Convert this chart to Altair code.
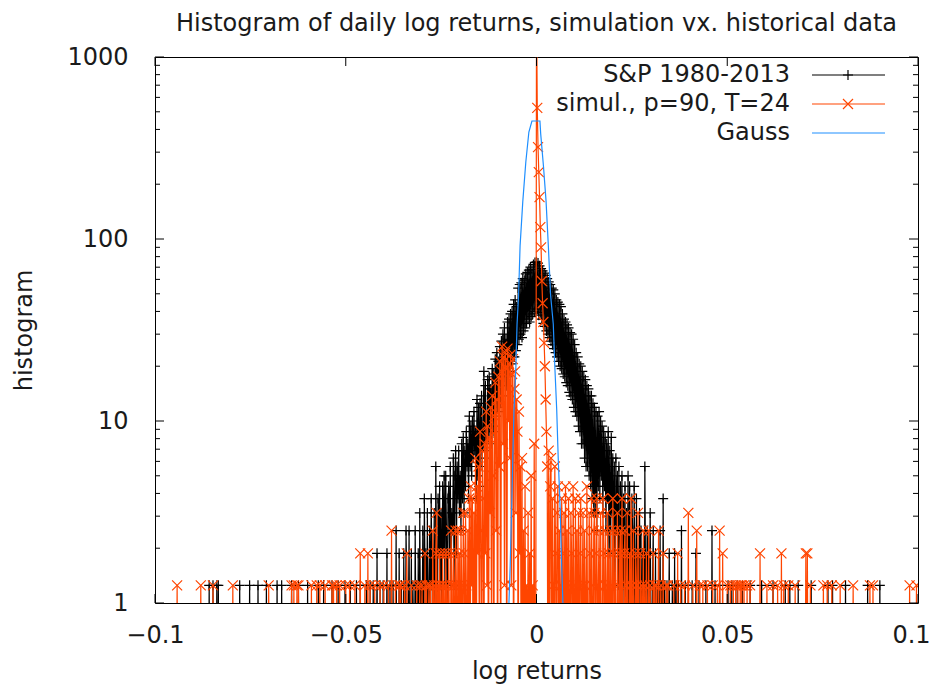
import altair as alt
import pandas as pd

# ---------------- data ----------------
BIN_WIDTH = 0.0002          # histogram bin width in log-return units
COUNT_TO_DENSITY = 0.625    # histogram value of one count
EMPTY_BIN_VALUE = 0.2       # empty bins lie below the log axis (line drops out of view)

X_TICKS = [-0.1, -0.05, 0, 0.05, 0.1]
Y_MAJOR = [1, 10, 100, 1000]
Y_MINOR = [2, 3, 4, 5, 6, 7, 8, 9, 20, 30, 40, 50, 60, 70, 80, 90,
           200, 300, 400, 500, 600, 700, 800, 900]

LABELS = ["S&P 1980-2013", "simul., p=90, T=24", "Gauss"]
TITLE = "Histogram of daily log returns, simulation vx. historical data"

# S&P 1980-2013: counts per bin, bins -175 .. 175
SP_FIRST_BIN = -175
SP_CORE = [
    0, 3, 1, 0, 4, 2, 0, 1, 4, 0, 1, 3, 0, 2, 1, 0, 4, 1, 2, 0,
    3, 0, 5, 1, 2, 1, 4, 0, 6, 2, 3, 1, 5, 0, 2, 4, 1, 6, 2, 3,
    2, 5, 0, 9, 3, 1, 6, 3, 7, 2, 5, 1, 7, 3, 8, 2, 8, 4, 1, 6,
    7, 3, 9, 2, 5, 4, 10, 2, 8, 11, 3, 9, 6, 11, 5, 8, 4, 12, 6, 13,
    5, 11, 7, 14, 9, 12, 6, 17, 9, 15, 8, 16, 10, 18, 11, 14, 6, 21, 8, 19,
    7, 20, 9, 22, 11, 12, 30, 10, 25, 12, 11, 27, 13, 28, 14, 24, 12, 31, 14, 29,
    15, 35, 17, 38, 19, 34, 18, 41, 20, 44, 22, 48, 25, 52, 28, 45, 25, 56, 28, 58,
    30, 62, 33, 64, 36, 70, 36, 74, 39, 68, 42, 86, 45, 90, 48, 92, 46, 97, 50, 95,
    52, 103, 55, 105, 58, 108, 56, 112, 60, 109, 62, 116, 64, 119, 66,
    120,
    66, 118, 61, 114, 63, 110, 58, 107, 55, 104, 53, 101, 50, 97, 48, 93, 46, 90, 44, 86,
    42, 84, 40, 80, 38, 74, 36, 72, 34, 70, 32, 68, 31, 62, 29, 58, 28, 56, 26, 54,
    25, 52, 23, 49, 22, 48, 21, 45, 19, 42, 18, 38, 17, 36, 15, 33, 14, 32, 12, 30,
    12, 28, 10, 27, 9, 25, 9, 24, 8, 22, 7, 22, 6, 20, 5, 19, 5, 18, 4, 17,
    7, 18, 6, 16, 8, 15, 5, 14, 7, 13, 4, 12, 6, 14, 3, 11, 2, 13, 5, 10,
    3, 9, 1, 10, 4, 8, 2, 9, 0, 7, 3, 8, 1, 6, 2, 7, 0, 5, 2, 8,
    1, 7, 3, 0, 6, 4, 0, 7, 2, 1, 6, 1, 3, 0, 5, 2, 4, 0, 3, 1,
    0, 9, 2, 1, 4, 3, 0, 2, 5, 1, 0, 2, 4, 0, 1, 3, 0, 1, 2, 0,
    1, 4, 0, 2, 0, 6, 0, 2, 1, 0, 2, 0, 1, 3, 0,
]
SP_TAIL_BINS = [-429, -424, -419, -417, -389, -376, -365, -354, -340, -334, -321, -312,
                -300, -286, -279, -268, -260, -251, -244, -236, -231, -223, -218, -214,
                -209, -205, -201, -196, -192, -188, -184, -180, -177,
                178, 181, 183, 186, 190, 195, 199, 204, 209, 213, 222, 230, 234, 240,
                251, 256, 263, 270, 280, 295, 310, 326, 332, 343, 360, 382, 388, 405,
                434, 450]
SP_TAIL_COUNTS = [2, 2, 2, 2, 2, 2, 2, 2, 2, 2, 2, 2,
                  2, 2, 2, 2, 2, 2, 2, 2, 2, 2, 2, 2,
                  3, 2, 2, 3, 2, 2, 4, 3, 2,
                  2, 3, 2, 2, 4, 2, 2, 2, 3, 2, 2, 4, 2, 2,
                  2, 2, 2, 2, 2, 2, 2, 2, 2, 2, 2, 2, 2, 2,
                  2, 2]

# simulation p=90, T=24: counts per bin, bins -175 .. 175
SIM_FIRST_BIN = -175
SIM_CORE = [
    0, 0, 2, 0, 1, 3, 0, 1, 0, 0, 0, 2, 0, 0, 1, 0, 1, 0, 2, 0,
    1, 0, 2, 0, 1, 2, 0, 1, 0, 3, 0, 2, 0, 1, 2, 0, 2, 1, 0, 4,
    1, 2, 0, 3, 5, 0, 2, 1, 3, 0, 2, 0, 3, 1, 2, 0, 3, 1, 2, 0,
    3, 1, 0, 4, 2, 0, 3, 2, 0, 4, 2, 0, 4, 1, 3, 0, 4, 2, 0, 5,
    3, 0, 5, 2, 0, 4, 1, 6, 0, 7, 2, 6, 0, 5, 1, 10, 0, 7, 3, 9,
    1, 14, 4, 0, 11, 6, 0, 12, 3, 18, 2, 15, 0, 13, 5, 19, 1, 22, 8, 0,
    17, 26, 4, 21, 0, 28, 9, 34, 0, 30, 41, 12, 36, 2, 38, 31, 0, 40, 16, 33,
    10, 37, 2, 29, 35, 0, 24, 30, 5, 21, 14, 0, 18, 3, 9, 0, 10, 0, 4, 0,
    7, 0, 2, 0, 5, 0, 3, 0, 8, 0, 2, 0, 12, 0, 0,
    3200,
    840, 512, 373, 272, 186, 144, 94, 71, 56, 43, 32, 21, 14, 9, 0, 11, 0, 7, 10, 0,
    6, 2, 0, 9, 3, 0, 5, 7, 0, 4, 2, 0, 6, 3, 0, 5, 0, 7, 1, 4,
    0, 6, 2, 0, 5, 3, 0, 7, 2, 0, 6, 1, 4, 0, 5, 0, 3, 6, 0, 2,
    5, 0, 4, 2, 0, 7, 1, 0, 5, 3, 0, 6, 2, 0, 4, 5, 0, 3, 6, 0,
    2, 4, 0, 5, 1, 0, 6, 3, 0, 4, 2, 0, 5, 1, 3, 0, 4, 2, 0, 6,
    3, 0, 4, 1, 0, 5, 2, 0, 3, 4, 0, 6, 1, 0, 3, 4, 0, 2, 5, 0,
    1, 3, 0, 6, 2, 0, 4, 1, 0, 3, 2, 0, 5, 1, 0, 3, 0, 2, 0, 4,
    0, 2, 0, 3, 1, 0, 4, 0, 2, 0, 1, 0, 3, 0, 2, 0, 2, 0, 1, 4,
    0, 1, 2, 0, 0, 3, 0, 1, 0, 2, 0, 2, 0, 1, 0,
]
SIM_TAIL_BINS = [-471, -440, -424, -398, -351, -321, -318, -314, -312, -295, -288, -284,
                 -277, -268, -266, -262, -258, -250, -245, -238, -231, -225, -221, -218,
                 -212, -205, -200, -194, -190, -185, -180, -178,
                 180, 185, 189, 194, 199, 205, 210, 214, 218, 224, 231, 237, 240, 244,
                 250, 254, 258, 261, 264, 267, 269, 272, 276, 280, 293, 302, 310, 316,
                 321, 324, 330, 339, 353, 355, 359, 376, 381, 387, 398, 415, 437, 441,
                 489, 498]
SIM_TAIL_COUNTS = [2, 2, 2, 2, 2, 2, 2, 2, 2, 2, 2, 2,
                   2, 2, 2, 2, 2, 2, 2, 2, 3, 2, 3, 2,
                   2, 2, 2, 2, 4, 2, 2, 2,
                   2, 3, 2, 2, 5, 2, 4, 2, 2, 2, 2, 2, 4, 3,
                   2, 2, 2, 2, 2, 2, 2, 2, 2, 2, 3, 2, 2, 2,
                   3, 2, 2, 2, 3, 3, 2, 2, 2, 2, 2, 2, 2, 2,
                   2, 2]

GAUSS_X = [-0.0073, -0.0069, -0.0065, -0.0062, -0.0059, -0.0054, -0.0051, -0.0047,
           -0.0043, -0.0036, -0.0028, -0.0020, -0.0012, 0.0009, 0.0011, 0.0018,
           0.0025, 0.0031, 0.0037, 0.0044, 0.0048, 0.0053, 0.0057, 0.0062, 0.0066, 0.0070]
GAUSS_Y = [0.9, 1.6, 3.4, 6.4, 11.5, 20, 34, 49, 92, 160, 265, 387, 445,
           445, 378, 255, 162, 92, 49, 34, 20, 11.5, 6.2, 3.3, 1.6, 0.9]

assert len(SP_CORE) == 351 and len(SIM_CORE) == 351
assert len(SP_TAIL_BINS) == len(SP_TAIL_COUNTS)
assert len(SIM_TAIL_BINS) == len(SIM_TAIL_COUNTS)
assert len(GAUSS_X) == len(GAUSS_Y)


def histogram_frame(first_bin, core, tail_bins, tail_counts):
    counts = {b: 0 for b in range(-500, 501)}
    for j, c in enumerate(core):
        counts[first_bin + j] = c
    for b, c in zip(tail_bins, tail_counts):
        counts[b] = c
    rows = []
    for b in range(-500, 501):
        c = counts[b]
        rows.append({"x": round(b * BIN_WIDTH, 6),
                     "y": c * COUNT_TO_DENSITY if c > 0 else EMPTY_BIN_VALUE,
                     "k": c})
    return pd.DataFrame(rows)


sp_df = histogram_frame(SP_FIRST_BIN, SP_CORE, SP_TAIL_BINS, SP_TAIL_COUNTS)
sim_df = histogram_frame(SIM_FIRST_BIN, SIM_CORE, SIM_TAIL_BINS, SIM_TAIL_COUNTS)
gauss_df = pd.DataFrame({"x": GAUSS_X, "y": GAUSS_Y})

# ---------------- styling ----------------
W, H = 763, 546
FONT = "DejaVu Sans"
TXT = "#1a1a1a"
BLACK, RED, BLUE = "#000000", "#ff4500", "#1e8fff"
PLUS = "M-1,0L1,0M0,-1L0,1"
CROSS = "M-1,-1L1,1M-1,1L1,-1"
MARK_SIZE = 100

xs = alt.Scale(domain=[-0.1, 0.1], nice=False, zero=False)
ys = alt.Scale(type="log", domain=[1, 1000], nice=False)

x_axis = alt.Axis(values=X_TICKS, format="~g", title="log returns", grid=False,
                  domain=False, ticks=False, tickSize=0, labelPadding=20,
                  labelFlush=False, labelOverlap=False,
                  labelOffset={"condition": {"test": "datum.value >= 0.099", "value": -7},
                               "value": 0},
                  labelFont=FONT, labelFontSize=24, labelColor=TXT,
                  titleFont=FONT, titleFontSize=24, titleFontWeight="normal",
                  titleColor=TXT, titleY=75, titleBaseline="alphabetic")
y_axis = alt.Axis(values=Y_MAJOR, format="~g", title="histogram", grid=False,
                  domain=False, ticks=False, tickSize=0, labelPadding=27,
                  labelFlush=False, labelOverlap=False,
                  labelFont=FONT, labelFontSize=24, labelColor=TXT,
                  titleFont=FONT, titleFontSize=24, titleFontWeight="normal",
                  titleColor=TXT, titleX=-124, titleY=H / 2,
                  titleBaseline="alphabetic", titleAngle=270)

X = alt.X("x:Q", scale=xs, axis=x_axis)
Y = alt.Y("y:Q", scale=ys, axis=y_axis)

sp_line = alt.Chart(sp_df).mark_line(color=BLACK, strokeWidth=1.2, clip=True).encode(x=X, y=Y)
sp_pts = alt.Chart(sp_df).transform_filter("datum.k >= 2").mark_point(
    shape=PLUS, size=MARK_SIZE, filled=False, color=BLACK, strokeWidth=1.2, opacity=1, clip=True
).encode(x=X, y=Y)

sim_line = alt.Chart(sim_df).mark_line(color=RED, strokeWidth=1.2, clip=True).encode(x=X, y=Y)
sim_pts = alt.Chart(sim_df).transform_filter("datum.k >= 2").mark_point(
    shape=CROSS, size=MARK_SIZE, filled=False, color=RED, strokeWidth=1.2, opacity=1, clip=True
).encode(x=X, y=Y)

gauss_line = alt.Chart(gauss_df).mark_line(color=BLUE, strokeWidth=1.2, clip=True).encode(x=X, y=Y)

# inward mirrored ticks
ymaj = pd.DataFrame({"y": Y_MAJOR})
ymin = pd.DataFrame({"y": Y_MINOR})
xt = pd.DataFrame({"x": X_TICKS})
tick_layers = [
    alt.Chart(ymaj).mark_rule(color=BLACK).encode(y=Y, x=alt.value(0), x2=alt.value(9)),
    alt.Chart(ymaj).mark_rule(color=BLACK).encode(y=Y, x=alt.value(W - 9), x2=alt.value(W)),
    alt.Chart(ymin).mark_rule(color=BLACK).encode(y=Y, x=alt.value(0), x2=alt.value(5)),
    alt.Chart(ymin).mark_rule(color=BLACK).encode(y=Y, x=alt.value(W - 5), x2=alt.value(W)),
    alt.Chart(xt).mark_rule(color=BLACK).encode(x=X, y=alt.value(H - 9), y2=alt.value(H)),
    alt.Chart(xt).mark_rule(color=BLACK).encode(x=X, y=alt.value(0), y2=alt.value(9)),
]

# legend (top right, text left of the sample)
legend_layers = []
for row, (lab, col, shp) in enumerate(zip(LABELS, [BLACK, RED, BLUE], [PLUS, CROSS, None])):
    yy = 18 + 29 * row
    d = pd.DataFrame({"label": [lab]})
    legend_layers.append(alt.Chart(d).mark_text(
        align="right", baseline="middle", font=FONT, fontSize=24, color=TXT
    ).encode(text="label:N", x=alt.value(635), y=alt.value(yy)))
    legend_layers.append(alt.Chart(d).mark_rule(color=col, strokeWidth=1.2).encode(
        x=alt.value(657), x2=alt.value(730), y=alt.value(yy)))
    if shp:
        legend_layers.append(alt.Chart(d).mark_point(
            shape=shp, size=MARK_SIZE, filled=False, color=col, strokeWidth=1.2, opacity=1
        ).encode(x=alt.value(693), y=alt.value(yy)))

title_layer = alt.Chart(pd.DataFrame({"t": [TITLE]})).mark_text(
    align="center", baseline="alphabetic", font=FONT, fontSize=24, color=TXT
).encode(text="t:N", x=alt.value(W / 2), y=alt.value(-26))

chart = alt.layer(
    sp_line, sp_pts, sim_line, sim_pts, gauss_line,
    *tick_layers, *legend_layers, title_layer
).properties(
    width=W, height=H,
    autosize=alt.AutoSizeParams(type="none"),
    padding={"left": 147, "top": 49, "right": 13, "bottom": 82},
    background="white",
).configure_view(stroke="black", strokeWidth=1)

chart.save("out.html", embed_options={"renderer": "svg", "actions": False})
